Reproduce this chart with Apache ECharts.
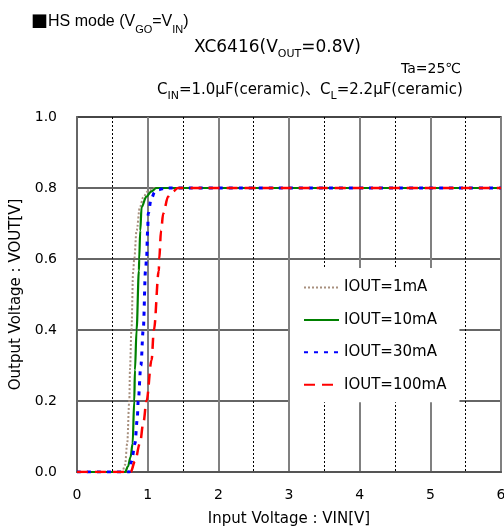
<!DOCTYPE html>
<html>
<head>
<meta charset="utf-8">
<script src="https://cdn.jsdelivr.net/npm/echarts@6/dist/echarts.min.js"></script>
<style>
  html, body { margin: 0; padding: 0; background: #fff; }
  #chart { width: 504px; height: 530px; }
</style>
</head>
<body>
<div id="chart"></div>
<script>
// Input voltage (V) and output voltage (V) per load current
const seriesNames = ['IOUT=1mA', 'IOUT=10mA', 'IOUT=30mA', 'IOUT=100mA'];

const vin1mA   = [0, 0.64, 0.68, 0.71, 0.74, 0.75, 0.77, 0.795, 0.81, 0.843, 0.89, 0.94, 1.0, 1.1, 6];
const vout1mA  = [0, 0, 0.02, 0.08, 0.2, 0.29, 0.4, 0.567, 0.6, 0.68, 0.746, 0.775, 0.79, 0.8, 0.8];

const vin10mA  = [0, 0.68, 0.72, 0.758, 0.787, 0.81, 0.82, 0.843, 0.876, 0.88, 0.895, 0.914, 0.98, 1.05, 1.125, 6];
const vout10mA = [0, 0, 0.015, 0.042, 0.08, 0.2, 0.287, 0.4, 0.567, 0.6, 0.68, 0.746, 0.775, 0.79, 0.8, 0.8];

const vin30mA  = [0, 0.74, 0.772, 0.82, 0.852, 0.866, 0.904, 0.937, 0.97, 0.984, 1.0, 1.008, 1.05, 1.1, 1.15, 1.25, 6];
const vout30mA = [0, 0, 0.03, 0.08, 0.146, 0.2, 0.3, 0.4, 0.567, 0.6, 0.68, 0.728, 0.77, 0.788, 0.795, 0.8, 0.8];

const vin100mA  = [0, 0.76, 0.82, 0.89, 0.94, 0.984, 1.055, 1.088, 1.158, 1.163, 1.19, 1.22, 1.29, 1.35, 1.43, 6];
const vout100mA = [0, 0, 0.03, 0.08, 0.14, 0.2, 0.315, 0.4, 0.567, 0.6, 0.68, 0.728, 0.776, 0.79, 0.8, 0.8];

const xTicks = [0, 1, 2, 3, 4, 5, 6];
const yTicks = [0.0, 0.2, 0.4, 0.6, 0.8, 1.0];

const pairs = (xs, ys) => xs.map((x, i) => [x, ys[i]]);

const FONT = '"DejaVu Sans", "Noto Sans CJK JP", sans-serif';
const FONT_TITLE = '"Liberation Sans", "Noto Sans CJK JP", sans-serif';
const FONT_CJK = '"Noto Sans CJK JP", sans-serif';

const lineStyles = [
  { color: '#a8907e', width: 2, type: [2, 2] },
  { color: '#008000', width: 2.2, type: 'solid' },
  { color: '#0000ff', width: 3, type: [4, 6] },
  { color: '#ff0000', width: 2.5, type: [11, 7] }
];
const dataSets = [
  pairs(vin1mA, vout1mA),
  pairs(vin10mA, vout10mA),
  pairs(vin30mA, vout30mA),
  pairs(vin100mA, vout100mA)
];

const sub = { fontSize: 11, verticalAlign: 'bottom', padding: [0, 0, -4, 0], fontFamily: FONT, color: '#000' };

// plot rectangle
const PLOT = { left: 77, top: 117, width: 424, height: 355 };

const chart = echarts.init(document.getElementById('chart'), null, { renderer: 'canvas', width: 504, height: 530 });
chart.setOption({
  animation: false,
  backgroundColor: '#fff',
  title: [
    {
      text: '{b|■}HS mode (V{s|GO}=V{s|IN})',
      left: 26, top: 8,
      textStyle: { fontSize: 16, fontWeight: 'normal', color: '#000', fontFamily: FONT_TITLE,
        rich: {
          b: { fontSize: 17, fontFamily: FONT_CJK, color: '#000' },
          s: Object.assign({}, sub, { fontSize: 11, fontFamily: FONT_TITLE, padding: [0, 0, -5, 0] })
        } }
    },
    {
      text: 'XC6416(V{s|OUT}=0.8V)',
      left: 189, top: 34,
      textStyle: { fontSize: 17, fontWeight: 'normal', color: '#000', fontFamily: FONT, rich: { s: sub } }
    },
    {
      text: 'Ta=25℃',
      left: 396, top: 57,
      textStyle: { fontSize: 14, fontWeight: 'normal', color: '#000', fontFamily: FONT }
    },
    {
      text: 'C{s|IN}=1.0μF(ceramic)、C{s|L}=2.2μF(ceramic)',
      left: 152, top: 78,
      textStyle: { fontSize: 15, fontWeight: 'normal', color: '#000', fontFamily: FONT, rich: { s: sub } }
    }
  ],
  grid: Object.assign({ containLabel: false, outerBoundsMode: 'none' }, PLOT),
  legend: {
    orient: 'vertical',
    left: 290, top: 268,
    backgroundColor: '#fff',
    padding: [12, 13, 10, 13],
    itemWidth: 35, itemHeight: 14, itemGap: 17.4,
    textStyle: { fontSize: 15, color: '#000', fontFamily: FONT },
    itemStyle: { opacity: 0 },
    data: seriesNames
  },
  xAxis: {
    type: 'value', min: 0, max: 6, interval: 1,
    name: 'Input Voltage : VIN[V]', nameLocation: 'middle', nameGap: 40,
    nameTextStyle: { fontSize: 15, color: '#000', fontFamily: FONT },
    axisLine: { show: true, lineStyle: { color: '#555', width: 2 } },
    axisTick: { show: false },
    axisLabel: { fontSize: 14, color: '#000', margin: 16, fontFamily: FONT,
      formatter: v => xTicks.includes(v) ? String(v) : '' },
    splitLine: { show: true, lineStyle: { color: '#808080', width: 2 } },
    minorTick: { show: false, splitNumber: 2 },
    minorSplitLine: { show: true, lineStyle: { color: '#000', width: 1, type: [2, 2] } }
  },
  yAxis: {
    type: 'value', min: 0, max: 1, interval: 0.2,
    name: 'Output Voltage : VOUT[V]', nameLocation: 'middle', nameGap: 39,
    nameTextStyle: { fontSize: 15, color: '#000', fontFamily: FONT },
    axisLine: { show: true, lineStyle: { color: '#666', width: 2 } },
    axisTick: { show: false },
    axisLabel: { fontSize: 14, color: '#000', margin: 20, fontFamily: FONT,
      formatter: v => {
        const t = yTicks.find(k => Math.abs(k - v) < 1e-9);
        return t === undefined ? '' : t.toFixed(1);
      } },
    splitLine: { show: true, lineStyle: { color: '#333', width: 1.5 } }
  },
  graphic: [
    {
      type: 'rect', silent: true, z: -1,
      shape: { x: PLOT.left, y: PLOT.top, width: PLOT.width, height: PLOT.height },
      style: { fill: 'none', stroke: '#808080', lineWidth: 2 }
    }
  ],
  series: seriesNames.map((name, i) => ({
    name,
    type: 'line',
    data: dataSets[i],
    symbol: 'none',
    smooth: 0.35,
    smoothMonotone: 'x',
    lineStyle: lineStyles[i],
    itemStyle: { color: lineStyles[i].color },
    z: 2 + i
  }))
});
</script>
</body>
</html>
